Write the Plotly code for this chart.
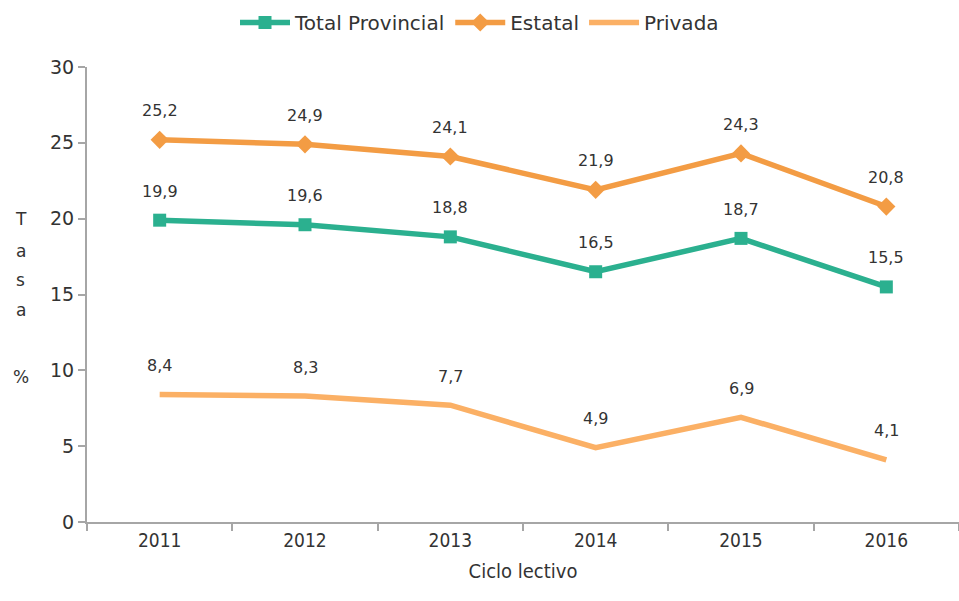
import plotly.graph_objects as go

years = ["2011", "2012", "2013", "2014", "2015", "2016"]
total = [19.9, 19.6, 18.8, 16.5, 18.7, 15.5]
estatal = [25.2, 24.9, 24.1, 21.9, 24.3, 20.8]
privada = [8.4, 8.3, 7.7, 4.9, 6.9, 4.1]
ytitle_letters = ["T", "a", "s", "a", "%"]
ytitle_pos = [20.0, 17.9, 15.95, 13.97, 9.55]

def lab(v):
    return [f"{x:.1f}".replace(".", ",") for x in v]

fig = go.Figure()
fig.add_trace(go.Scatter(x=years, y=total, name="Total Provincial", mode="lines+markers",
                         line=dict(color="#2bb08f", width=5.5),
                         marker=dict(symbol="square", size=13, color="#2bb08f")))
fig.add_trace(go.Scatter(x=years, y=estatal, name="Estatal", mode="lines+markers",
                         line=dict(color="#f39c44", width=5.5),
                         marker=dict(symbol="diamond", size=14, color="#f39c44")))
fig.add_trace(go.Scatter(x=years, y=privada, name="Privada", mode="lines",
                         line=dict(color="#fbb065", width=5.5)))

for series in (total, estatal, privada):
    for i, (yv, t) in enumerate(zip(series, lab(series))):
        fig.add_annotation(x=i, y=yv, xref="x", yref="y", text=t, showarrow=False, yshift=29,
                           font=dict(size=16, color="#333333", family="DejaVu Sans"))

for ch, yv in zip(ytitle_letters, ytitle_pos):
    fig.add_annotation(x=-0.076, xref="paper", y=yv, yref="y", text=ch, showarrow=False,
                       xanchor="center", font=dict(size=17, color="#333333"))

narrow = "Liberation Sans Narrow, DejaVu Sans Condensed, Liberation Sans"
fig.update_layout(
    width=959, height=601,
    margin=dict(l=87, r=0, t=67, b=79, autoexpand=False),
    plot_bgcolor="white", paper_bgcolor="white",
    font=dict(family="DejaVu Sans", color="#333333"),
    legend=dict(orientation="h", x=0.5, xref="container", xanchor="center", y=0.995, yref="container",
                yanchor="top", font=dict(size=20, color="#333333"), itemwidth=50, tracegroupgap=0),
    xaxis=dict(type="category", range=[-0.5, 5.5], showline=True, linecolor="#a6a6a6", linewidth=2,
               ticks="outside", tickson="boundaries", ticklen=7, tickcolor="#a6a6a6", tickwidth=2,
               showgrid=False, automargin=False,
               tickfont=dict(size=19, family=narrow, color="#333333"),
               title=dict(text="Ciclo lectivo", font=dict(size=20, family=narrow, color="#333333"), standoff=14)),
    yaxis=dict(range=[0, 30], dtick=5, showline=True, linecolor="#a6a6a6", linewidth=2,
               ticks="outside", ticklen=7, tickcolor="#a6a6a6", tickwidth=2, showgrid=False, zeroline=False,
               automargin=False, tickfont=dict(size=19, color="#333333")),
)
fig.write_html("out.html", config={"displayModeBar": False},
               post_script="document.body.style.margin='0';document.body.style.overflow='hidden';")
